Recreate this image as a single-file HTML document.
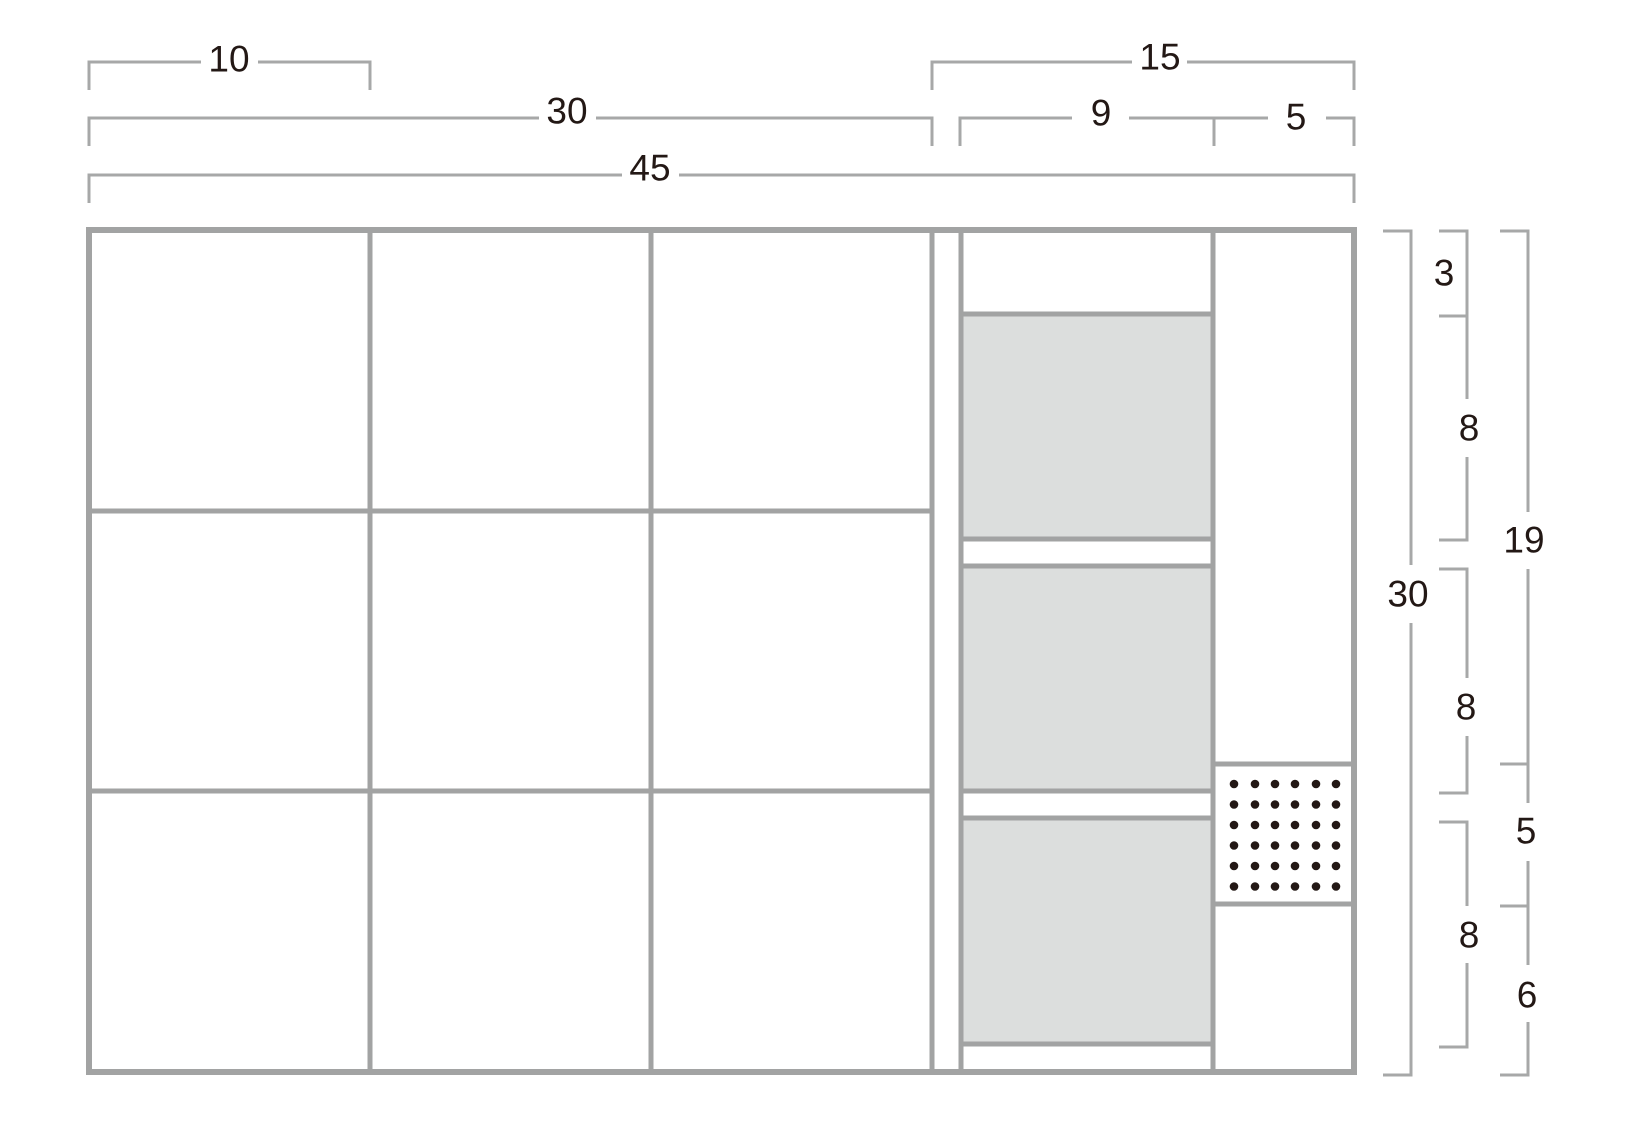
<!DOCTYPE html>
<html><head><meta charset="utf-8"><style>html,body{margin:0;padding:0;background:#fff}svg{display:block}</style></head>
<body>
<svg width="1651" height="1125" viewBox="0 0 1651 1125" xmlns="http://www.w3.org/2000/svg">
<g fill="#dcdedd">
<rect x="961" y="314" width="252" height="225"/>
<rect x="961" y="566" width="252" height="225"/>
<rect x="961" y="818" width="252" height="226"/>
</g>
<g stroke="#a2a3a3" stroke-width="5" fill="none">
<line x1="370" y1="230" x2="370" y2="1072"/>
<line x1="651" y1="230" x2="651" y2="1072"/>
<line x1="932" y1="230" x2="932" y2="1072"/>
<line x1="961" y1="230" x2="961" y2="1072"/>
<line x1="1213" y1="230" x2="1213" y2="1072"/>
<line x1="89" y1="511" x2="932" y2="511"/>
<line x1="89" y1="791" x2="932" y2="791"/>
<line x1="961" y1="314" x2="1213" y2="314"/>
<line x1="961" y1="539" x2="1213" y2="539"/>
<line x1="961" y1="566" x2="1213" y2="566"/>
<line x1="961" y1="791" x2="1213" y2="791"/>
<line x1="961" y1="818" x2="1213" y2="818"/>
<line x1="961" y1="1044" x2="1213" y2="1044"/>
<line x1="1213" y1="764" x2="1354" y2="764"/>
<line x1="1213" y1="904" x2="1354" y2="904"/>
<rect x="89" y="230" width="1265" height="842" stroke-width="6"/>
</g>
<g fill="#231815">
<g id="r"><circle cx="1234" cy="784" r="4.3"/><circle cx="1255" cy="784" r="4.3"/><circle cx="1275" cy="784" r="4.3"/><circle cx="1295" cy="784" r="4.3"/><circle cx="1316" cy="784" r="4.3"/><circle cx="1336" cy="784" r="4.3"/></g>
<use href="#r" y="20.5"/><use href="#r" y="41"/><use href="#r" y="61.5"/><use href="#r" y="82"/><use href="#r" y="102.5"/>
</g>
<g stroke="#a7a8a8" stroke-width="3" fill="none">
<polyline points="89,90 89,62 370,62 370,90"/>
<polyline points="932,90 932,62 1354,62 1354,90"/>
<polyline points="89,146 89,118 932,118 932,146"/>
<polyline points="960,146 960,118 1354,118 1354,146"/>
<line x1="1214" y1="118" x2="1214" y2="146"/>
<polyline points="89,203 89,175 1354,175 1354,203"/>
<polyline points="1383,231 1411,231 1411,1075 1383,1075"/>
<polyline points="1439,231 1467,231 1467,540 1439,540"/>
<line x1="1439" y1="316" x2="1467" y2="316"/>
<polyline points="1439,569 1467,569 1467,793 1439,793"/>
<polyline points="1439,822 1467,822 1467,1047 1439,1047"/>
<polyline points="1500,231 1528,231 1528,1075 1500,1075"/>
<line x1="1500" y1="764" x2="1528" y2="764"/>
<line x1="1500" y1="906" x2="1528" y2="906"/>
</g>
<g fill="#fff">
<rect x="201" y="45" width="57" height="30"/>
<rect x="1132" y="45" width="55" height="30"/>
<rect x="539" y="100" width="57" height="30"/>
<rect x="1072" y="100" width="57" height="30"/>
<rect x="1268" y="100" width="58" height="30"/>
<rect x="622" y="160" width="57" height="30"/>
<rect x="1395" y="565" width="30" height="58"/>
<rect x="1455" y="399" width="25" height="58"/>
<rect x="1455" y="678" width="25" height="58"/>
<rect x="1455" y="906" width="25" height="57"/>
<rect x="1515" y="512" width="25" height="57"/>
<rect x="1515" y="803" width="25" height="58"/>
<rect x="1515" y="965" width="25" height="57"/>
</g>
<g font-family="Liberation Sans, Arial, sans-serif" font-size="37" fill="#231815" text-anchor="middle" dominant-baseline="central">
<text x="229" y="59">10</text>
<text x="1160" y="57">15</text>
<text x="567" y="111">30</text>
<text x="1101" y="113">9</text>
<text x="1296" y="117">5</text>
<text x="650" y="168">45</text>
<text x="1408" y="594">30</text>
<text x="1444" y="273">3</text>
<text x="1469" y="428">8</text>
<text x="1466" y="707">8</text>
<text x="1469" y="935">8</text>
<text x="1524" y="540">19</text>
<text x="1526" y="831">5</text>
<text x="1527" y="995">6</text>
</g>
</svg>
</body></html>
